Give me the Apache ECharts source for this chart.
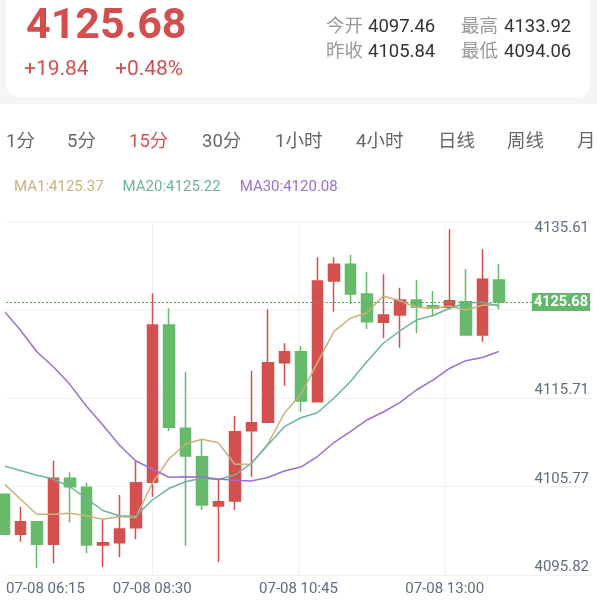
<!DOCTYPE html>
<html><head><meta charset="utf-8">
<script src="https://cdn.jsdelivr.net/npm/echarts@6/dist/echarts.min.js"></script>
<style>
html,body{margin:0;padding:0;width:597px;height:603px;overflow:hidden;background:#fff;font-family:Roboto,"Noto Sans CJK SC",sans-serif;}
#band{position:absolute;left:0;top:0;width:597px;height:104px;background:#f5f5f5;}
#card{position:absolute;left:6px;top:-14px;width:584px;height:111px;background:#fff;border-radius:12px;}
#chart{position:absolute;left:0;top:0;width:597px;height:603px;}
.t{position:absolute;white-space:nowrap;line-height:1;}
.red{color:#d24f4f;}
.lab{color:#9a9a9a;font-size:18.5px;}
.val{color:#333;font-size:18.5px;}
.tab{color:#666;font-size:18.5px;top:132px;}
</style></head><body>
<div id="band"></div><div id="card"></div>
<div id="chart"></div>
<div class="t red" style="left:26px;top:2px;font-size:43px;font-weight:bold;">4125.68</div>
<div class="t red" style="left:24px;top:58px;font-size:21px;">+19.84</div>
<div class="t red" style="left:115px;top:58px;font-size:21px;">+0.48%</div>
<div class="t lab" style="left:326px;top:17px;">今开</div>
<div class="t val" style="left:368px;top:17px;">4097.46</div>
<div class="t lab" style="left:461px;top:17px;">最高</div>
<div class="t val" style="left:504px;top:17px;">4133.92</div>
<div class="t lab" style="left:326px;top:42px;">昨收</div>
<div class="t val" style="left:368px;top:42px;">4105.84</div>
<div class="t lab" style="left:461px;top:42px;">最低</div>
<div class="t val" style="left:504px;top:42px;">4094.06</div>
<div class="t tab" style="left:6px;">1分</div>
<div class="t tab" style="left:67px;">5分</div>
<div class="t tab" style="left:129px;color:#d24f4f;">15分</div>
<div class="t tab" style="left:202px;">30分</div>
<div class="t tab" style="left:275px;">1小时</div>
<div class="t tab" style="left:356px;">4小时</div>
<div class="t tab" style="left:438px;">日线</div>
<div class="t tab" style="left:507px;">周线</div>
<div class="t tab" style="left:577px;">月</div>
<script>
// ---- data ----
const times = ['06:15','06:30','06:45','07:00','07:15','07:30','07:45','08:00','08:15','08:30',
  '08:45','09:00','09:15','09:30','09:45','10:00','10:15','10:30','10:45','11:00',
  '11:15','11:30','11:45','12:00','12:15','12:30','12:45','13:00','13:15','13:30','13:45'];
const opens  = [4103.91,4099.39,4100.81,4098.26,4105.73,4104.71,4098.18,4098.44,4100.13,4105.27,
  4123.08,4111.38,4108.17,4102.59,4103.16,4111.11,4112.06,4118.81,4120.05,4114.40,
  4128.06,4129.95,4126.59,4123.38,4124.21,4125.91,4125.26,4125.08,4125.71,4121.94,4128.17];
const closes = [4099.39,4100.81,4098.26,4105.73,4104.78,4098.18,4098.44,4099.99,4105.23,4123.08,
  4111.50,4108.25,4102.70,4103.08,4111.00,4112.02,4118.81,4120.05,4114.47,4128.06,
  4129.95,4126.59,4123.45,4124.21,4125.91,4125.08,4124.97,4125.83,4121.94,4128.25,4125.68];
const lows   = [4099.30,4098.55,4095.61,4096.10,4100.74,4097.24,4095.72,4096.78,4098.82,4103.64,
  4111.08,4098.06,4102.14,4096.22,4102.14,4105.91,4111.95,4116.21,4113.26,4114.30,
  4124.58,4125.45,4122.62,4121.57,4120.51,4122.14,4124.02,4124.85,4121.90,4121.19,4124.85];
const highs  = [4104.00,4102.51,4100.90,4107.72,4106.40,4105.23,4101.01,4103.84,4107.80,4126.66,
  4124.97,4117.79,4110.06,4105.73,4112.78,4117.90,4124.85,4121.01,4120.70,4130.74,
  4130.74,4131.03,4129.11,4128.82,4127.30,4128.17,4126.93,4133.91,4129.38,4131.64,4129.98];
const ma1  = [4105.14,4103.38,4101.65,4101.65,4101.76,4101.49,4101.08,4101.40,4101.29,4105.16,
  4107.91,4109.61,4110.14,4109.75,4107.31,4107.34,4109.61,4113.08,4115.23,4118.78,
  4122.32,4123.84,4124.47,4126.36,4125.83,4125.08,4124.97,4125.23,4124.77,4125.31,4125.37];
const ma20 = [4107.12,4106.60,4106.08,4105.65,4104.77,4103.46,4102.08,4101.49,4101.46,4103.27,
  4104.57,4105.34,4105.73,4105.59,4106.10,4107.42,4109.49,4111.57,4112.58,4113.15,
  4114.78,4116.66,4118.92,4121.01,4122.40,4123.64,4124.15,4124.94,4125.57,4125.65,4125.22];
const ma30 = [4124.70,4122.51,4120.05,4118.36,4116.36,4113.91,4111.76,4109.49,4107.68,4106.78,
  4105.84,4105.91,4105.87,4105.65,4105.50,4105.42,4105.82,4106.55,4107.00,4108.19,
  4109.75,4111.00,4112.32,4113.23,4114.30,4115.72,4116.85,4118.15,4119.04,4119.40,4120.08];
const lastPrice = 4125.68;
const xTickLabels = ['07-08 06:15','07-08 08:30','07-08 10:45','07-08 13:00'];
const yTickLabels = ['4095.82','4105.77','4115.71','4125.66','4135.61'];

// ---- scales ----
const yMin = 4094.78, yMax = 4134.85;
const yStep = (yMax - yMin) / 4;
const gridVals = [yMin, yMin + yStep, yMin + 2 * yStep, yMin + 3 * yStep, yMax];
const idxOf = v => Math.round((v - yMin) / yStep);

const candleData = times.map((t, i) => [i, opens[i], closes[i], lows[i], highs[i]]);
const line = arr => arr.map((v, i) => [i, v]);

const axisColor = '#616b84';
const gridColor = '#f1f1f1';
const colors = {MA1: '#c9b17d', MA20: '#6db3a3', MA30: '#9b6fd0'};
const lastVals = {MA1: ma1[ma1.length - 1], MA20: ma20[ma20.length - 1], MA30: ma30[ma30.length - 1]};

const noLine = {show: false, onZero: false};
const chart = echarts.init(document.getElementById('chart'));
chart.setOption({
  animation: false,
  legend: {
    left: 4, top: 175, itemGap: 14, itemWidth: 0, itemHeight: 0, icon: 'none', selectedMode: false,
    data: ['MA1', 'MA20', 'MA30'].map(n => ({name: n, textStyle: {color: colors[n]}})),
    textStyle: {fontSize: 15, fontFamily: 'Roboto'},
    formatter: n => n + ':' + lastVals[n].toFixed(2)
  },
  grid: {left: 6, right: 6, top: 221, bottom: 28},
  xAxis: [
    {type: 'value', min: 0.1333, max: 35.588, show: false, position: 'bottom', axisLine: noLine},
    {type: 'value', min: 0, max: 4, position: 'bottom', axisLine: noLine,
      axisTick: {show: false, customValues: [1, 2, 3]},
      splitLine: {show: true, lineStyle: {color: gridColor, width: 1}},
      axisLabel: {customValues: [1, 2, 3], margin: 7, color: axisColor, fontSize: 15, fontFamily: 'Roboto',
        formatter: v => xTickLabels[Math.round(v)]}},
    {type: 'value', min: 0, max: 4, position: 'bottom', axisLine: noLine,
      axisTick: {show: false, customValues: [0]}, splitLine: {show: false},
      axisLabel: {customValues: [0], align: 'left', margin: 7, color: axisColor, fontSize: 15, fontFamily: 'Roboto',
        formatter: () => xTickLabels[0]}}
  ],
  yAxis: [
    {type: 'value', min: yMin, max: yMax, position: 'right', axisLine: noLine,
      axisTick: {show: false, customValues: gridVals},
      splitLine: {show: true, lineStyle: {color: gridColor, width: 1}},
      axisLabel: {inside: true, margin: 2, customValues: gridVals.slice(0, 4), verticalAlign: 'bottom',
        color: axisColor, fontSize: 15, fontFamily: 'Roboto', formatter: v => yTickLabels[idxOf(v)]}},
    {type: 'value', min: yMin, max: yMax, position: 'right', z: 6, axisLine: noLine,
      axisTick: {show: false, customValues: [lastPrice]}, splitLine: {show: false},
      axisLabel: {inside: true, margin: 1, customValues: [lastPrice], verticalAlign: 'middle',
        backgroundColor: '#63b967', color: '#fff', fontWeight: 'bold', padding: [2, 2, 1, 2],
        fontSize: 14.5, fontFamily: 'Roboto', formatter: v => v.toFixed(2)}},
    {type: 'value', min: yMin, max: yMax, position: 'right', axisLine: noLine,
      axisTick: {show: false, customValues: [yMax]}, splitLine: {show: false},
      axisLabel: {inside: true, margin: 2, customValues: [yMax], verticalAlign: 'top',
        color: axisColor, fontSize: 15, fontFamily: 'Roboto', formatter: () => yTickLabels[4]}}
  ],
  series: [
    {type: 'candlestick', name: 'K', xAxisIndex: 0, yAxisIndex: 0, data: candleData, barWidth: 11,
      itemStyle: {color: '#d4504f', color0: '#66bb6a', borderColor: '#d4504f', borderColor0: '#66bb6a', borderWidth: 1.5},
      markLine: {silent: true, symbol: ['none', 'none'], label: {show: false},
        lineStyle: {color: '#4caf50', type: [2, 2], width: 1.2},
        data: [{yAxis: lastPrice}]}},
    {type: 'line', name: 'MA1', xAxisIndex: 0, yAxisIndex: 0, data: line(ma1), showSymbol: false,
      lineStyle: {color: colors.MA1, width: 1.5}, itemStyle: {color: colors.MA1}},
    {type: 'line', name: 'MA20', xAxisIndex: 0, yAxisIndex: 0, data: line(ma20), showSymbol: false,
      lineStyle: {color: colors.MA20, width: 1.5}, itemStyle: {color: colors.MA20}},
    {type: 'line', name: 'MA30', xAxisIndex: 0, yAxisIndex: 0, data: line(ma30), showSymbol: false,
      lineStyle: {color: colors.MA30, width: 1.5}, itemStyle: {color: colors.MA30}}
  ]
});
</script>
</body></html>
